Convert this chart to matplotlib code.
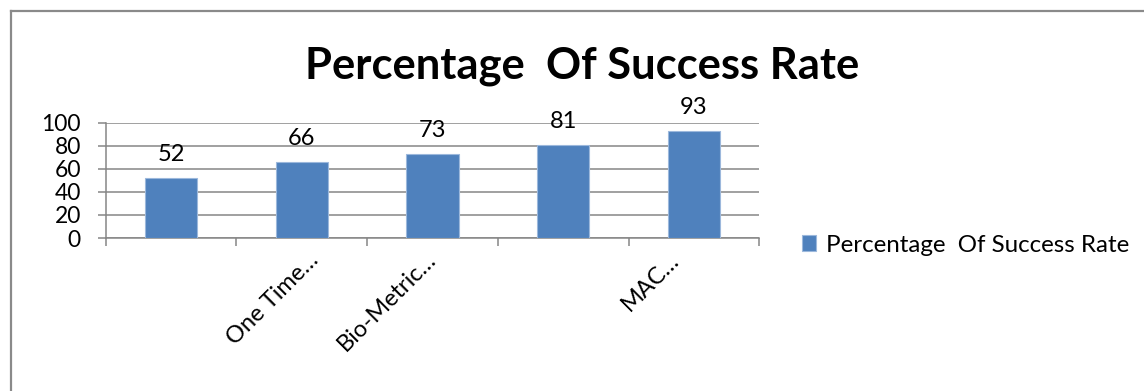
import matplotlib
matplotlib.use("Agg")
import matplotlib.pyplot as plt
from matplotlib.lines import Line2D
from matplotlib.transforms import ScaledTranslation

categories = ["", "One Time\u2026", "Bio-Metric\u2026", "", "MAC\u2026"]
values = [52, 66, 73, 81, 93]
series_name = "Percentage  Of Success Rate"
title = "Percentage  Of Success Rate"
yticks = [0, 20, 40, 60, 80, 100]

W, H = 1144, 391
DPI = 100
plt.rcParams['font.family'] = ['Lato', 'DejaVu Sans']

fig = plt.figure(figsize=(W / DPI, H / DPI), dpi=DPI)
fig.patch.set_facecolor('white')

def fx(px):
    return px / W

def fy(py):
    return 1 - py / H

ax = fig.add_axes([fx(105.6), fy(238), fx(759.4) - fx(105.6), fy(122.7) - fy(238)])

grid_c = '#868686'
bar_c = '#4F81BD'
x = list(range(len(values)))
bars = ax.bar(x, values, width=0.4, color=bar_c, edgecolor='#9CB8DC', linewidth=0.8,
              label=series_name, zorder=3)

ax.set_xlim(-0.5, len(values) - 0.5)
ax.set_ylim(0, 100)
ax.set_yticks(yticks)
ax.yaxis.grid(True, color=grid_c, linewidth=1.1, zorder=0)
ax.set_axisbelow(True)

for s in ['top', 'right']:
    ax.spines[s].set_visible(False)
for s in ['left', 'bottom']:
    ax.spines[s].set_color(grid_c)
    ax.spines[s].set_linewidth(1.1)

ax.tick_params(axis='y', direction='out', length=5.8, width=1.1, color=grid_c,
               pad=12, labelsize=16.5)
ax.set_xticks(x)
ax.set_xticks([i - 0.5 for i in range(len(values) + 1)], minor=True)
ax.tick_params(axis='x', which='major', length=0, pad=8)
ax.tick_params(axis='x', which='minor', direction='out', length=5.8, width=1.1, color=grid_c)
ax.set_xticklabels(categories, rotation=45, ha='right', va='top',
                   rotation_mode='anchor', fontsize=17)
label_dx = [0, 6, -7, 0, -26]
for lbl, dx in zip(ax.get_xticklabels(), label_dx):
    lbl.set_transform(lbl.get_transform() + ScaledTranslation(dx / DPI, 0, fig.dpi_scale_trans))

for b, v in zip(bars, values):
    ax.annotate(str(v), (b.get_x() + b.get_width() / 2, v), xytext=(0, 12),
                textcoords='offset points', ha='center', va='baseline', fontsize=17)

fig.text(fx(582.5), fy(78), title, ha='center', va='baseline', fontsize=31.3,
         fontweight='bold')

handle = plt.Rectangle((0, 0), 1, 1, facecolor=bar_c, edgecolor='#9CB8DC', linewidth=0.8)
leg = fig.legend([handle], [series_name], loc='center left',
                 bbox_to_anchor=(fx(801.5), fy(245)), frameon=False, fontsize=17.4,
                 handlelength=0.6, handleheight=0.6, handletextpad=0.4,
                 borderpad=0, borderaxespad=0)

border_c = '#8A8A8A'
fig.add_artist(Line2D([fx(11), fx(11)], [0, fy(11)], color=border_c, linewidth=1.6,
                      transform=fig.transFigure))
fig.add_artist(Line2D([fx(11), 1], [fy(11), fy(11)], color=border_c, linewidth=1.6,
                      transform=fig.transFigure))

fig.savefig('out.png', dpi=DPI, facecolor='white')
